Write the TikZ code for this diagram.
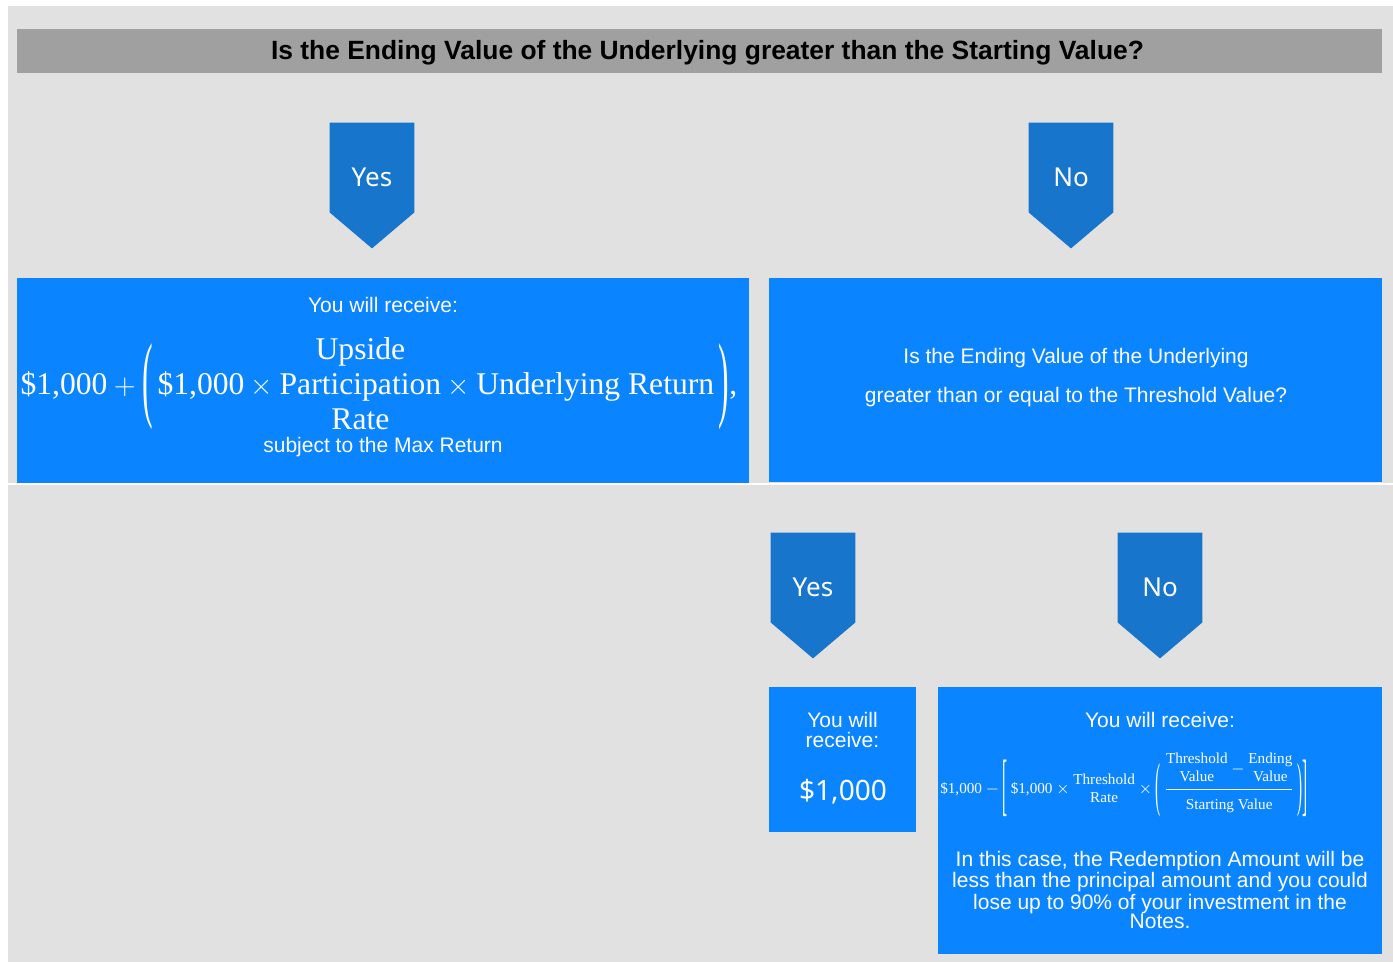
\documentclass[tikz,border=0pt]{standalone}
\usepackage{amsmath}
\usepackage{graphicx}
\usepackage{fontspec}
\setmainfont{Liberation Sans}
\newfontfamily\tagfont{Noto Sans}
\newfontfamily\formfont{Liberation Serif}
\usepackage{tikz}
\usetikzlibrary{positioning}
\definecolor{bggray}{RGB}{225,225,225}
\definecolor{bargray}{RGB}{160,160,160}
\definecolor{tagblue}{RGB}{24,117,204}
\definecolor{boxblue}{RGB}{10,132,255}

\begin{document}
\begin{tikzpicture}[x=0.5pt, y=-0.5pt, every node/.style={inner sep=0pt, font=\fontsize{10.5}{12}\selectfont},
      box/.style={fill=boxblue},
      tag/.style={minimum width=42pt, minimum height=44.5pt},
      tagtext/.style={text=white, font=\tagfont\fontsize{13}{15}\selectfont},
      wtext/.style={text=white, align=center}]
    \useasboundingbox (0,0) rectangle (1393,962);
    \fill[bggray] (8,6) rectangle (1393,962);
    \draw[white, line width=0.6pt] (8,484) -- (1393,484);
    % question bar
    \node[fill=bargray, minimum width=682.5pt, minimum height=22pt] (bar) at (699.5,51) {};
    \node[font=\bfseries\fontsize{13.2}{15}\selectfont] (q1) at (707.5,53) {Is the Ending Value of the Underlying greater than the Starting Value?};
    % first yes / no tags
    \node[tag] (yes1) at (372,167.5) {};
    \fill[tagblue] (yes1.north west) -- (yes1.north east) -- (yes1.south east) -- ([yshift=-18pt]yes1.south) -- (yes1.south west) -- cycle;
    \node[tagtext] (yes1t) at (372,177) {Yes};
    \node[tag] (no1) at (1071,167.5) {};
    \fill[tagblue] (no1.north west) -- (no1.north east) -- (no1.south east) -- ([yshift=-18pt]no1.south) -- (no1.south west) -- cycle;
    \node[tagtext] (no1t) at (1071,177) {No};
    % upside box
    \node[box, minimum width=366pt, minimum height=102.5pt] (up) at (383,380.5) {};
    \node[wtext] (uprec) at (383,305) {You will receive:};
    \node[wtext, font=\formfont\fontsize{15.8}{17.5}\selectfont] (upform) at (379,387.5)
      {$\mbox{\$1,000} + \mbox{\raisebox{-7.5pt}{\scalebox{1}[3]{(}}}\,\mbox{\$1,000} \times \begin{tabular}{@{}c@{}}Upside\\Participation\\Rate\end{tabular} \times \mbox{Underlying Return}\,\mbox{\raisebox{-7.5pt}{\scalebox{1}[3]{)}}}$,};
    \node[wtext] (upcap) at (383,447) {subject to the Max Return};
    % threshold question
    \node[box, minimum width=306.5pt, minimum height=102pt] (thr) at (1075.5,380) {};
    \node[wtext, font=\fontsize{10.5}{19.5}\selectfont] (thrq) at (1076,378)
      {Is the Ending Value of the Underlying\\ greater than or equal to the Threshold Value?};
    % second yes / no tags
    \node[tag] (yes2) at (813,577.5) {};
    \fill[tagblue] (yes2.north west) -- (yes2.north east) -- (yes2.south east) -- ([yshift=-18pt]yes2.south) -- (yes2.south west) -- cycle;
    \node[tagtext] (yes2t) at (813,587) {Yes};
    \node[tag] (no2) at (1160,577.5) {};
    \fill[tagblue] (no2.north west) -- (no2.north east) -- (no2.south east) -- ([yshift=-18pt]no2.south) -- (no2.south west) -- cycle;
    \node[tagtext] (no2t) at (1160,587) {No};
    % par box
    \node[box, minimum width=73.5pt, minimum height=72.5pt] (par) at (842.5,759.5) {};
    \node[wtext, font=\fontsize{10.5}{10}\selectfont] (parrec) at (842.5,730) {You will\\ receive:};
    \node[wtext, font=\tagfont\fontsize{14}{16}\selectfont] (paramt) at (843,792) {\$1,000};
    % loss box
    \node[box, minimum width=222pt, minimum height=133.5pt] (loss) at (1160,820.5) {};
    \node[wtext] (lossrec) at (1160,720) {You will receive:};
    \node[wtext, font=\formfont\fontsize{7.6}{9}\selectfont] (lossform) at (1124,784)
      {$\mbox{\$1,000} - \mbox{\raisebox{-6.75pt}{\scalebox{1}[4.5]{[}}}\,\mbox{\$1,000} \times \begin{tabular}{@{}c@{}}Threshold\\Rate\end{tabular} \times \mbox{\raisebox{-5.2pt}{\scalebox{1}[3.9]{(}}}\,\dfrac{\begin{tabular}{@{}c@{}}Threshold\\Value\end{tabular} - \begin{tabular}{@{}c@{}}Ending\\Value\end{tabular}\rule[-2pt]{0pt}{0pt}}{\rule{0pt}{8.5pt}\mbox{Starting Value}}\,\mbox{\raisebox{-5.2pt}{\scalebox{1}[3.9]{)}}}\mbox{\raisebox{-6.75pt}{\scalebox{1}[4.5]{]}}}$};
    \node[wtext, font=\fontsize{10.5}{9.7}\selectfont] (lossnote) at (1160,890)
      {In this case, the Redemption Amount will be\\ less than the principal amount and you could\\ lose up to 90\% of your investment in the\\ Notes.};
  \end{tikzpicture}
\end{document}
